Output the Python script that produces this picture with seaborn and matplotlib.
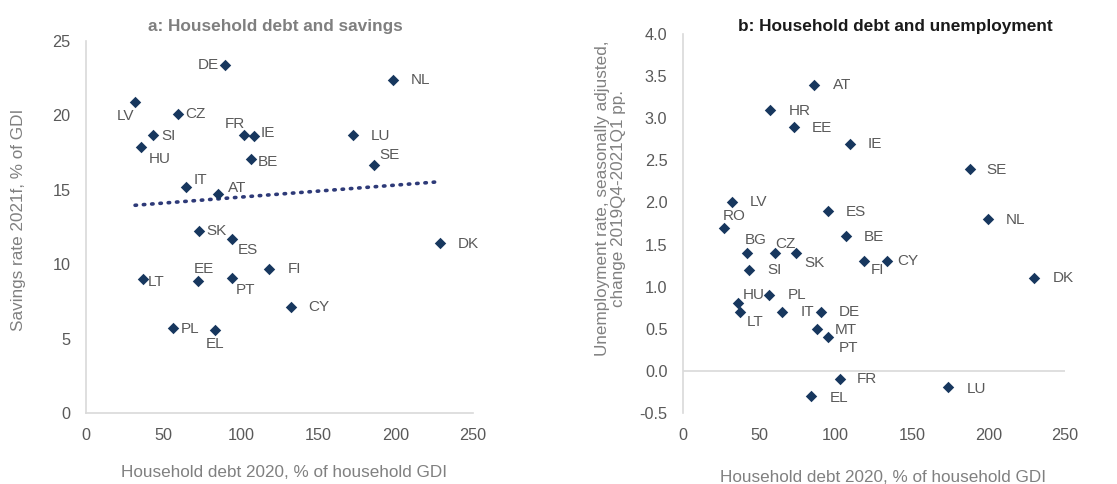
import numpy as np
import pandas as pd
import matplotlib
matplotlib.use("Agg")
import matplotlib.pyplot as plt
import seaborn as sns

# ---- Panel a: household debt vs savings ----
a_countries = ["DE", "NL", "LV", "CZ", "SI", "HU", "FR", "IE", "LU", "BE", "SE", "IT",
               "AT", "SK", "ES", "DK", "FI", "LT", "EE", "PT", "CY", "PL", "EL"]
a_debt = [89.8, 198.5, 31.7, 59.6, 43.1, 35.7, 102.1, 108.5, 172.7, 106.6, 186.3, 64.6,
          85.5, 73.0, 94.5, 228.7, 118.4, 36.6, 72.4, 94.5, 132.4, 56.0, 83.3]
a_savings = [23.4, 22.4, 20.9, 20.1, 18.7, 17.9, 18.7, 18.6, 18.7, 17.1, 16.7, 15.2,
             14.7, 12.25, 11.7, 11.4, 9.68, 9.0, 8.9, 9.05, 7.1, 5.73, 5.6]
# label offsets in pixels (dx, dy; dy positive = down)
a_offsets = [(-17, 0), (27, 0), (-10, 14), (17, 0), (16, 1), (18, 12), (-9, -11), (14, -3),
             (27, 1), (17, 3), (15, -10), (14, -7), (19, -6), (17, 0), (16, 11), (28, 1),
             (25, 0), (13, 3), (6, -12), (13, 12), (28, 0), (17, 1), (0, 14)]

# ---- Panel b: household debt vs unemployment ----
b_countries = ["AT", "HR", "EE", "IE", "SE", "LV", "ES", "NL", "RO", "BE", "BG", "CZ",
               "SK", "SI", "FI", "CY", "DK", "HU", "PL", "LT", "IT", "DE", "MT", "PT",
               "FR", "LU", "EL"]
b_debt = [86.1, 57.3, 73.0, 109.6, 187.7, 32.0, 95.0, 199.7, 26.8, 107.0, 42.1, 60.2,
          73.9, 43.4, 118.8, 133.6, 230.0, 36.0, 56.5, 37.3, 64.9, 90.4, 87.8, 95.0,
          102.9, 173.7, 83.7]
b_unemp = [3.4, 3.1, 2.9, 2.7, 2.4, 2.0, 1.9, 1.8, 1.7, 1.6, 1.4, 1.4,
           1.4, 1.2, 1.3, 1.3, 1.1, 0.8, 0.9, 0.7, 0.7, 0.7, 0.5, 0.4,
           -0.1, -0.2, -0.3]
b_offsets = [(28, 0), (29, 1), (28, 1), (25, 0), (27, 1), (27, 0), (28, 1), (27, 1),
             (11, -12), (28, 1), (9, -13), (11, -9), (19, 10), (25, 0), (13, 9), (21, 0),
             (29, 0), (16, -8), (28, 0), (15, 10), (25, 0), (28, 0), (29, 1), (21, 11),
             (27, 0), (28, 2), (28, 2)]

a_xticks = [0, 50, 100, 150, 200, 250]
a_yticks = [0, 5, 10, 15, 20, 25]
b_xticks = [0, 50, 100, 150, 200, 250]
b_yticks = [-0.5, 0.0, 0.5, 1.0, 1.5, 2.0, 2.5, 3.0, 3.5, 4.0]

df_a = pd.DataFrame({"country": a_countries, "debt": a_debt, "savings": a_savings})
df_b = pd.DataFrame({"country": b_countries, "debt": b_debt, "unemp": b_unemp})

sns.set_theme(style="white")
plt.rcParams["font.family"] = ["Liberation Sans", "DejaVu Sans"]

NAVY = "#17375E"
TXT = "#595959"
SPINE = "#D9D9D9"
DPI = 100

fig = plt.figure(figsize=(11.17, 4.84), dpi=DPI)
ax_a = fig.add_axes([86 / 1117, 1 - 413 / 484, (473 - 86) / 1117, (413 - 41) / 484])
ax_b = fig.add_axes([682.7 / 1117, 1 - 412.7 / 484, (1065 - 682.7) / 1117, (412.7 - 34.3) / 484])

px2pt = 72 / DPI

# Panel a
sns.regplot(data=df_a, x="debt", y="savings", ax=ax_a, scatter=False, ci=None,
            line_kws=dict(color="#2E3A78", lw=2.6, linestyle=(0, (0.4, 1.9)),
                          dash_capstyle="round"))
sns.scatterplot(data=df_a, x="debt", y="savings", ax=ax_a, marker="D", s=34,
                color=NAVY, edgecolor=NAVY, linewidth=0, zorder=3)
for c, xv, yv, (dx, dy) in zip(a_countries, a_debt, a_savings, a_offsets):
    ax_a.annotate(c, (xv, yv), xytext=(dx * px2pt, -dy * px2pt), textcoords="offset points",
                  ha="center", va="center", fontsize=11, color=TXT)
ax_a.set_xlim(0, 250)
ax_a.set_ylim(0, 25)
ax_a.set_xticks(a_xticks)
ax_a.set_yticks(a_yticks)
ax_a.set_xlabel("")
ax_a.set_ylabel("")

# Panel b
ax_b.axhline(0, color=SPINE, lw=1.2, zorder=1)
sns.scatterplot(data=df_b, x="debt", y="unemp", ax=ax_b, marker="D", s=34,
                color=NAVY, edgecolor=NAVY, linewidth=0, zorder=3)
for c, xv, yv, (dx, dy) in zip(b_countries, b_debt, b_unemp, b_offsets):
    ax_b.annotate(c, (xv, yv), xytext=(dx * px2pt, -dy * px2pt), textcoords="offset points",
                  ha="center", va="center", fontsize=11, color=TXT)
ax_b.set_xlim(0, 250)
ax_b.set_ylim(-0.5, 4.0)
ax_b.set_xticks(b_xticks)
ax_b.set_yticks(b_yticks)
ax_b.set_yticklabels([f"{v:.1f}" for v in b_yticks])
ax_b.set_xlabel("")
ax_b.set_ylabel("")

for ax in (ax_a, ax_b):
    for s in ("top", "right"):
        ax.spines[s].set_visible(False)
    ax.spines["left"].set_color(SPINE)
    ax.spines["left"].set_linewidth(1.2)
    ax.spines["bottom"].set_color(SPINE)
    ax.spines["bottom"].set_linewidth(1.2)
    ax.tick_params(axis="both", length=0, labelsize=11.7, labelcolor=TXT)
    ax.tick_params(axis="x", pad=11)
    ax.tick_params(axis="y", pad=11)
    ax.grid(False)
    ax.set_facecolor("white")
ax_b.spines["bottom"].set_visible(False)

# Titles and axis labels
fig.text(275 / 1117, 1 - 26.7 / 484, "a: Household debt and savings", ha="center", va="center",
         fontsize=12.4, fontweight="bold", color="#7F7F7F")
fig.text(895.7 / 1117, 1 - 26 / 484, "b: Household debt and unemployment", ha="center", va="center",
         fontsize=12.4, fontweight="bold", color="#1A1A1A")
fig.text(284 / 1117, 1 - 472.7 / 484, "Household debt 2020, % of household GDI", ha="center",
         va="center", fontsize=12.3, color="#808080")
fig.text(883 / 1117, 1 - 477 / 484, "Household debt 2020, % of household GDI", ha="center",
         va="center", fontsize=12.3, color="#808080")
fig.text(18.5 / 1117, 1 - 220 / 484, "Savings rate 2021f, % of GDI", ha="center", va="center",
         rotation=90, fontsize=12.3, color="#808080")
fig.text(610.5 / 1117, 1 - 198 / 484, "Unemployment rate, seasonally adjusted,\nchange 2019Q4-2021Q1 pp.",
         ha="center", va="center", rotation=90, fontsize=12.3, color="#808080", linespacing=1.0)

fig.savefig("out.png", dpi=DPI, facecolor="white")
